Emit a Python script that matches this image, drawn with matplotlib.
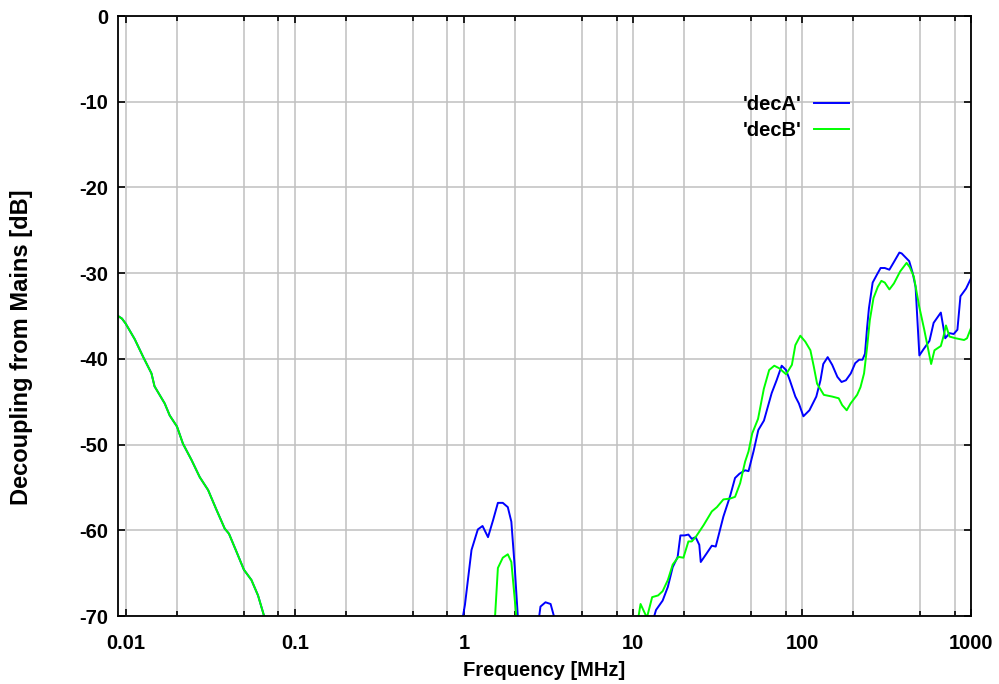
import matplotlib
matplotlib.use("Agg")
import matplotlib.pyplot as plt
from matplotlib.ticker import LogLocator, NullFormatter

plt.rcParams['font.family'] = ['Liberation Sans', 'DejaVu Sans']
plt.rcParams['font.weight'] = 'bold'
plt.rcParams['axes.unicode_minus'] = False

# frequency [MHz] / decoupling [dB]
# values below -70 are where the trace leaves the plot at the bottom
freq_a = [0.009, 0.0095, 0.01, 0.0113, 0.0127, 0.0142, 0.0148, 0.017, 0.0182,
          0.0201, 0.0218, 0.0245, 0.0274, 0.0307, 0.0344, 0.0385, 0.0408,
          0.0452, 0.050, 0.0554, 0.0606, 0.0656, 0.07, 0.1, 0.5, 0.95,
          1.015, 1.11, 1.21, 1.29, 1.39, 1.49, 1.59, 1.70, 1.82, 1.91, 2.0,
          2.1, 2.5, 2.75, 2.84, 3.04, 3.26, 3.52, 5.0, 12.5, 13.7, 15.0,
          16.1, 17.2, 18.4, 19.1, 20.2, 21.3, 22.3, 23.5, 24.7, 25.2, 27.3,
          29.3, 30.9, 34.3, 37.6, 40.2, 42.7, 46.1, 48.3, 51.7, 55.2, 59.6,
          66.2, 70.8, 75.9, 80.5, 84.8, 91.4, 95.9, 102, 110.7, 121.6, 128.7,
          133.7, 142, 151, 162, 171.5, 182, 194.5, 206.6, 218, 228, 236, 243,
          249, 262, 279, 292, 309, 329, 350, 377, 389, 431, 452, 470, 495,
          523, 568, 601, 663, 704, 746, 790, 831, 866, 935, 1000]
dec_a = [-35.0, -35.3, -35.9, -37.7, -39.8, -41.7, -43.2, -45.2, -46.6,
         -47.9, -49.9, -51.8, -53.8, -55.3, -57.6, -59.8, -60.4,
         -62.5, -64.6, -65.8, -67.6, -69.9, -72, -85, -85, -72,
         -68.7, -62.3, -59.9, -59.5, -60.8, -58.8, -56.8, -56.8, -57.3, -59.0, -64.3,
         -71, -80, -71, -68.9, -68.4, -68.6, -71, -85, -72, -69.3, -68.2,
         -66.6, -64.3, -63.1, -60.6, -60.6, -60.5, -61.0, -60.8, -61.7, -63.7, -62.7,
         -61.8, -61.9, -58.4, -56.0, -53.9, -53.4, -53.0, -53.1, -50.8, -48.3, -47.2,
         -44.0, -42.5, -40.8, -41.3, -42.5, -44.4, -45.2, -46.7, -46.0, -44.4, -42.5,
         -40.6, -39.8, -40.7, -42.1, -42.7, -42.5, -41.7, -40.5, -40.1, -40.1, -39.4, -36.3,
         -34.1, -31.1, -30.1, -29.4, -29.4, -29.6, -28.7, -27.6, -27.7, -28.6, -30.0, -31.6, -39.6,
         -38.9, -37.9, -35.8, -34.6, -37.6, -37.0, -37.1, -36.6, -32.7, -31.8, -30.6]

freq_b = [0.009, 0.0095, 0.01, 0.0113, 0.0127, 0.0142, 0.0148, 0.017, 0.0182,
          0.0201, 0.0218, 0.0245, 0.0274, 0.0307, 0.0344, 0.0385, 0.0408,
          0.0452, 0.050, 0.0554, 0.0606, 0.0656, 0.07, 0.5, 1.52, 1.59,
          1.70, 1.82, 1.91, 2.04, 2.08, 5.0, 10.4, 11.1, 12.1, 13.0, 14.1,
          15.0, 16.1, 17.2, 18.6, 19.9, 21.3, 22.3, 23.5, 26.2, 29.3, 31.4,
          34.3, 37.6, 40.2, 43.1, 46.1, 48.3, 50.8, 55.0, 59.5, 64.0, 68.6,
          73.4, 80.6, 87.2, 91.4, 97.8, 104.7, 112.2, 117.5, 122.9, 134.7,
          151, 165, 173, 184, 194, 212, 222, 233, 243, 252, 265, 281, 295,
          309, 329, 350, 381, 416, 434, 459, 494, 529, 581, 608, 663, 687,
          711, 746, 812, 910, 947, 1000]
dec_b = [-35.0, -35.3, -35.9, -37.7, -39.8, -41.7, -43.2, -45.2, -46.6,
         -47.9, -49.9, -51.8, -53.8, -55.3, -57.6, -59.8, -60.4,
         -62.5, -64.6, -65.8, -67.6, -69.9, -72, -85, -71, -64.4,
         -63.2, -62.8, -63.7, -69.9, -72, -85, -72, -68.6, -70.2, -67.8, -67.6,
         -67.1, -65.8, -64.0, -63.1, -63.2, -61.3, -61.3, -60.8, -59.4, -57.8, -57.3,
         -56.4, -56.3, -56.1, -54.5, -52.0, -50.8, -48.7, -47.0, -43.5, -41.3, -40.8,
         -41.1, -41.8, -40.7, -38.4, -37.3, -38.0, -39.0, -40.9, -42.9, -44.2,
         -44.4, -44.6, -45.4, -46.0, -45.2, -44.2, -43.3, -41.7, -38.6, -35.5, -32.9, -31.6, -30.9,
         -31.1, -31.9, -31.2, -29.8, -28.8, -29.3, -30.4, -33.9, -36.6, -40.6, -39.0, -38.5, -37.4,
         -36.1, -37.4, -37.6, -37.8, -37.6, -36.4]

xticks = [0.01, 0.1, 1, 10, 100, 1000]
xtick_labels = ['0.01', '0.1', '1', '10', '100', '1000']
yticks = [0, -10, -20, -30, -40, -50, -60, -70]
ytick_labels = ['0', '-10', '-20', '-30', '-40', '-50', '-60', '-70']

fig = plt.figure(figsize=(9.99, 6.84), dpi=100)
ax = fig.add_axes([118/999, 1-616/684, 853/999, 600/684])

ax.plot(freq_a, dec_a, color='#0000ff', lw=1.4, label="'decA'")
ax.plot(freq_b, dec_b, color='#00ff00', lw=1.4, label="'decB'")

ax.set_xscale('log')
ax.set_xlim(0.009, 1000)
ax.set_ylim(-70, 0)
ax.set_xticks(xticks, labels=xtick_labels)
ax.xaxis.set_minor_locator(LogLocator(base=10, subs=[2, 5, 8]))
ax.xaxis.set_minor_formatter(NullFormatter())
ax.set_yticks(yticks, labels=ytick_labels)

# gnuplot look: inside ticks on all sides, grey grid on every tic
ax.tick_params(which='both', direction='in', top=True, right=True,
               labelsize=14.5, width=1.2)
ax.tick_params(which='major', length=5)
ax.tick_params(which='minor', length=3.5)
ax.tick_params(axis='x', pad=13)
ax.tick_params(axis='y', pad=7)
ax.grid(which='both', color='#c0c0c0', lw=1.1)
ax.set_axisbelow(True)
for s in ax.spines.values():
    s.set_linewidth(1.3)

ax.set_xlabel('Frequency [MHz]', fontsize=14.5, fontweight='bold')
ax.xaxis.set_label_coords(0.5, -0.075)
ax.set_ylabel('Decoupling from Mains [dB]', fontsize=17, fontweight='bold')
ax.yaxis.set_label_coords(-0.0997, 0.448)

ax.legend(loc='upper right', bbox_to_anchor=(0.857, 0.868), frameon=False,
          markerfirst=False, fontsize=14.5, handlelength=1.75,
          handletextpad=0.6, labelspacing=0.36, borderpad=0, borderaxespad=0)

fig.savefig('out.png', dpi=100)
